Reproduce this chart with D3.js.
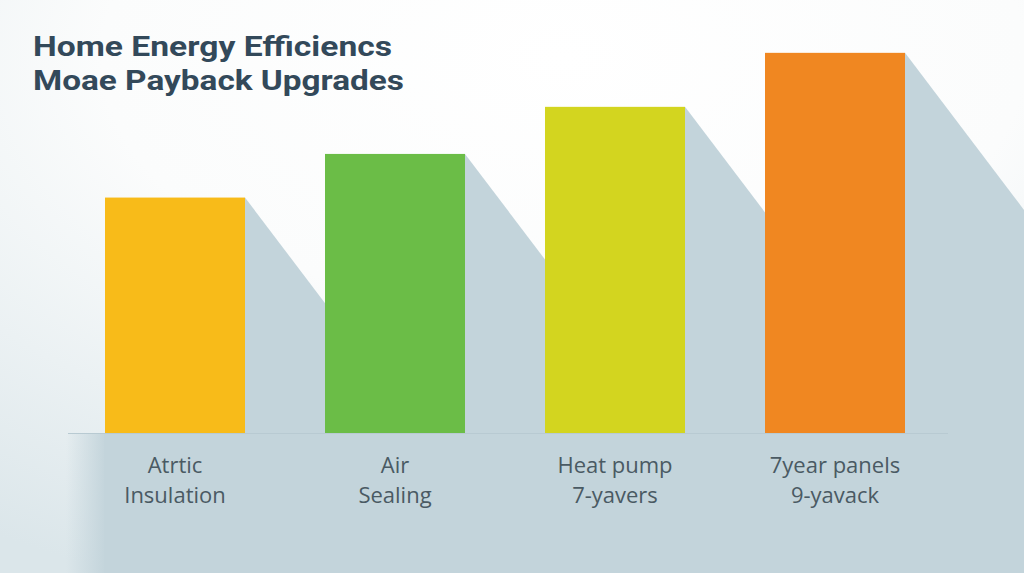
<!DOCTYPE html>
<html>
<head>
<meta charset="utf-8">
<script src="https://cdn.jsdelivr.net/npm/d3@7"></script>
<style>
  html, body { margin: 0; padding: 0; background: #fff; }
  svg { display: block; }
</style>
</head>
<body>
<div id="chart"></div>
<script>
// 数据
const titleLines = ["Home Energy Efficiencs", "Moae Payback Upgrades"]
const categories = ["Attic Insulation", "Air Sealing", "Heat pump 7-yavers", "7year panels 9-yavack"]
const labelLines = [["Atrtic", "Insulation"], ["Air", "Sealing"], ["Heat pump", "7-yavers"], ["7year panels", "9-yavack"]]
const values = [5.45, 6.46, 7.55, 8.8]
const colors = ["#f8bb19", "#6bbd47", "#d3d51f", "#f08721"]

const width = 1024, height = 573
const baseY = 433
const shadowSlope = 1.32   // 阴影斜率 dy/dx
const shadowColor = "#c3d4db"
const titleWidths = [359, 371]   // 标题宽度 (字体较宽)

const svg = d3.select("#chart").append("svg")
  .attr("width", width)
  .attr("height", height)

const defs = svg.append("defs")

// 背景渐变
const bg = defs.append("radialGradient").attr("id", "bg")
  .attr("cx", 0.55).attr("cy", 0.1).attr("r", 1.0)
bg.append("stop").attr("offset", "0%").attr("stop-color", "#ffffff")
bg.append("stop").attr("offset", "45%").attr("stop-color", "#fbfcfc")
bg.append("stop").attr("offset", "100%").attr("stop-color", "#dbe6ea")

const floorGrad = defs.append("linearGradient").attr("id", "floorEdge")
  .attr("x1", 0).attr("x2", 1).attr("y1", 0).attr("y2", 0)
floorGrad.append("stop").attr("offset", "0%").attr("stop-color", shadowColor).attr("stop-opacity", 0)
floorGrad.append("stop").attr("offset", "100%").attr("stop-color", shadowColor).attr("stop-opacity", 1)

svg.append("rect")
  .attr("width", width).attr("height", height)
  .attr("fill", "url(#bg)")

const x = d3.scaleBand()
  .domain(categories)
  .range([65, 945])
  .paddingInner(80 / 220)
  .paddingOuter(40 / 220)

const y = d3.scaleLinear()
  .domain([0, 10])
  .range([baseY, 1])

// 地面
svg.append("rect")
  .attr("x", 66).attr("y", baseY)
  .attr("width", 40).attr("height", height - baseY)
  .attr("fill", "url(#floorEdge)")
svg.append("rect")
  .attr("x", 104).attr("y", baseY)
  .attr("width", width - 104).attr("height", height - baseY)
  .attr("fill", shadowColor)

// 长阴影
svg.append("g").selectAll("path").data(categories).join("path")
  .attr("d", (d, i) => {
    const x1 = x(d) + x.bandwidth()
    const top = y(values[i])
    const run = (baseY - top) / shadowSlope
    return `M${x1},${top} L${x1 + run},${baseY} L${x1},${baseY} Z`
  })
  .attr("fill", shadowColor)

// 基线
svg.append("line")
  .attr("x1", 68).attr("x2", 948)
  .attr("y1", baseY + 0.5).attr("y2", baseY + 0.5)
  .attr("stroke", "#b8cad2")
  .attr("stroke-width", 1)

// 柱子
svg.append("g").selectAll("rect").data(categories).join("rect")
  .attr("x", d => x(d))
  .attr("y", (d, i) => y(values[i]))
  .attr("width", x.bandwidth())
  .attr("height", (d, i) => baseY - y(values[i]))
  .attr("fill", (d, i) => colors[i])

// 分类标签
const labelG = svg.append("g")
  .attr("font-family", "'Open Sans', Lato, sans-serif")
  .attr("font-size", 22)
  .attr("fill", "#4a5a63")
  .attr("text-anchor", "middle")

labelG.selectAll("text").data(categories).join("text")
  .attr("x", d => x(d) + x.bandwidth() / 2)
  .attr("y", 473)
  .each(function(d, i) {
    d3.select(this).selectAll("tspan").data(labelLines[i]).join("tspan")
      .attr("x", x(d) + x.bandwidth() / 2)
      .attr("dy", (_, j) => j === 0 ? 0 : 30)
      .text(t => t)
  })

// 标题
svg.append("g").selectAll("text").data(titleLines).join("text")
  .attr("x", 33)
  .attr("y", (_, i) => 56 + 34 * i)
  .attr("font-family", "Roboto, 'Open Sans', sans-serif")
  .attr("font-weight", 700)
  .attr("font-size", 28)
  .attr("textLength", (_, i) => titleWidths[i])
  .attr("lengthAdjust", "spacingAndGlyphs")
  .attr("fill", "#33495a")
  .text(d => d)
</script>
</body>
</html>
